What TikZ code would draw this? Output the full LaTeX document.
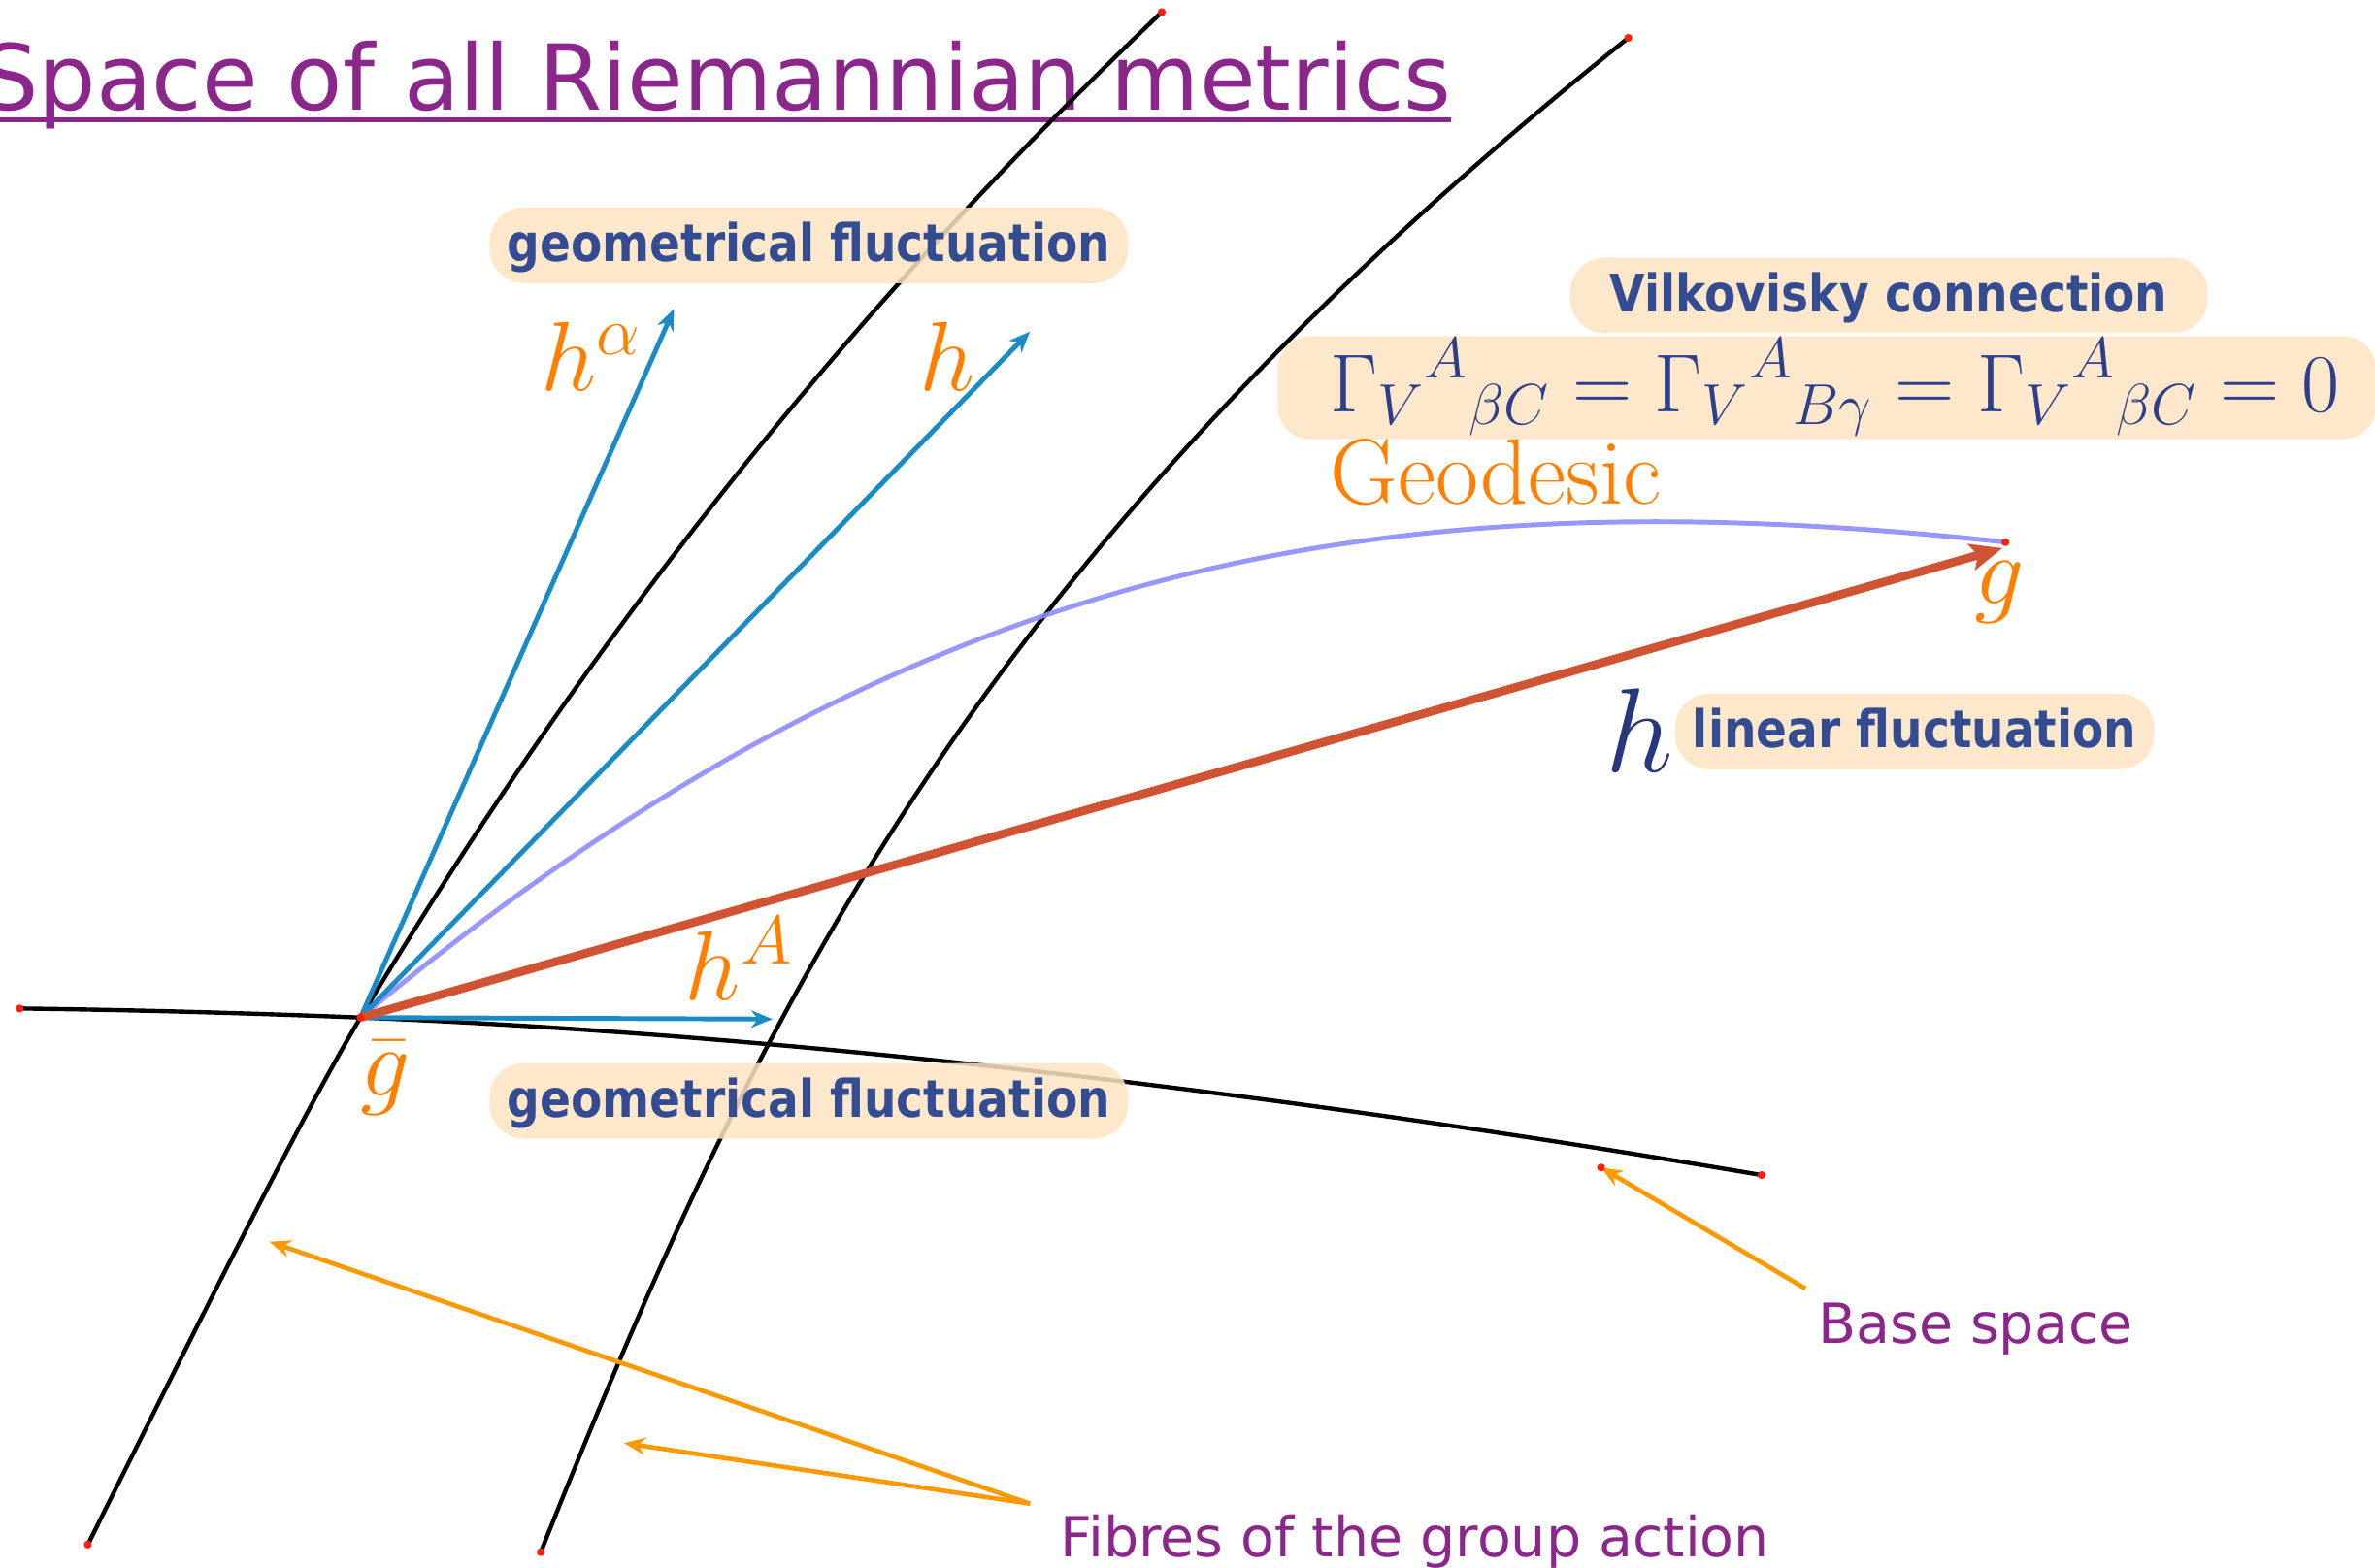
\RequirePackage{fix-cm}
\documentclass[tikz,border=0pt]{standalone}
\usepackage{fontspec}
\newfontfamily\dvsans{DejaVu Sans}
\newfontfamily\dvcond{DejaVu Sans}[FakeStretch=0.88]
\usetikzlibrary{arrows.meta}
\definecolor{titlepurple}{RGB}{139,38,139}
\definecolor{boxfill}{RGB}{253,228,194}
\definecolor{boxblue}{RGB}{52,76,145}
\definecolor{labelorange}{RGB}{255,128,0}
\definecolor{arroworange}{RGB}{255,153,0}
\definecolor{vecblue}{RGB}{25,140,200}
\definecolor{vecred}{RGB}{208,83,52}
\definecolor{geolav}{RGB}{140,140,255}
\definecolor{darkh}{RGB}{40,55,125}
\definecolor{eqblue}{RGB}{45,62,138}
\definecolor{dotred}{RGB}{255,30,10}
\tikzset{
  fibre/.style={black, line width=1.6pt, line cap=round},
  geoline/.style={geolav, line width=1.8pt, opacity=0.9},
  bluevec/.style={vecblue, line width=1.8pt, -{Stealth[length=8pt,width=6.5pt]}},
  redvec/.style={vecred, line width=3.2pt, -{Stealth[length=12pt,width=10pt,inset=2.5pt]}},
  pointer/.style={arroworange, line width=1.7pt, -{Stealth[length=8pt,width=6.5pt]}},
  pill/.style={fill=boxfill, fill opacity=0.85, text opacity=1, rounded corners=13pt,
    inner sep=0pt, text=boxblue, font=\dvcond\bfseries\fontsize{19.5}{22}\selectfont,
    minimum height=28.45pt, text height=15pt, text depth=2.5pt},
  orangemath/.style={text=labelorange, inner sep=0pt, anchor=base west, font=\fontsize{37}{42}\selectfont},
  purpletext/.style={text=titlepurple, inner sep=0pt, anchor=base west, font=\dvsans\fontsize{20.8}{24}\selectfont},
}
\begin{document}
\begin{tikzpicture}[x=0.02cm,y=-0.02cm]
\useasboundingbox (0,0) rectangle (1568,1035);
% title
\node[text=titlepurple, inner sep=0pt, anchor=base west, font=\dvsans\fontsize{34.2}{40}\selectfont] (title) at (-13,73) {Space of all Riemannian metrics};
\draw[titlepurple, line width=1.8pt] (0,79) -- (958,79);
% points
\coordinate (gbar) at (238,672);
\coordinate (gend) at (1324,358);
\coordinate (gtip) at (1322,362);
\coordinate (halpha) at (445,204);
\coordinate (hvec) at (680,219);
\coordinate (hA) at (510,673);
\coordinate (bsfrom) at (1192,851);
\coordinate (bsto) at (1057,771);
\coordinate (fbfrom) at (680,993);
\coordinate (fbto1) at (178,820);
\coordinate (fbto2) at (412,953);
\coordinate (f1a) at (58,1020);
\coordinate (f1b) at (767,8);
\coordinate (f2a) at (357,1025);
\coordinate (f2b) at (1075,25);
\coordinate (b0) at (13,666);
\coordinate (b1) at (1163,776);
% curves
\draw[fibre] (f1a) .. controls (116,904) and (196,742) .. (gbar)
  .. controls (370,452) and (536,228) .. (f1b);
\draw[fibre] (f2a) .. controls (497,675) and (637.5,375) .. (f2b);
\draw[fibre] (b0) .. controls (90,667) and (163,669) .. (gbar)
  .. controls (538,684) and (863,725) .. (b1);
\draw[geoline] (gbar) .. controls (598,372) and (904,313) .. (gend);
% vectors
\draw[bluevec] (gbar) -- (halpha);
\draw[bluevec] (gbar) -- (hvec);
\draw[bluevec] (gbar) -- (hA);
\draw[redvec] (gbar) -- (gtip);
% pointers
\draw[pointer] (bsfrom) -- (bsto);
\draw[pointer] (fbfrom) -- (fbto1);
\draw[pointer] (fbfrom) -- (fbto2);
% dots
\foreach \p in {(b0),(b1),(f1b),(f2b),(f1a),(f2a),(gbar),(gend),(bsto)}
  \fill[dotred] \p circle[radius=1.5pt];
% boxes
\node[pill, minimum width=240pt] (gf1) at (534,162) {geometrical fluctuation};
\node[pill, minimum width=240pt] (gf2) at (534,727) {geometrical fluctuation};
\node[pill, minimum width=239.5pt] (vilk) at (1247,195) {Vilkovisky connection};
\node[pill, minimum width=180pt] (lin) at (1264,483) {linear fluctuation};
\node[fill=boxfill, fill opacity=0.85, rounded corners=12pt, inner sep=0pt,
  minimum width=412.5pt, minimum height=38.7pt] (eqbox) at (1206,256) {};
\node[text=eqblue, inner sep=0pt, anchor=base west, font=\fontsize{31}{34}\selectfont] (eq) at (878,272)
  {${\Gamma_V}^{A}{}_{\beta C}={\Gamma_V}^{A}{}_{B\gamma}={\Gamma_V}^{A}{}_{\beta C}=0$};
% labels
\node[orangemath] (lhalpha) at (357,258) {$h^{\alpha}$};
\node[orangemath] (lh) at (607,258) {$h$};
\node[orangemath] (lg) at (1303,399) {$g$};
\node[orangemath] (lhA) at (452,660) {$h^{A}$};
\node[orangemath] (lgbar) at (238,724) {$\bar g$};
\node[text=labelorange, inner sep=0pt, anchor=base west, font=\fontsize{35}{40}\selectfont] (geo) at (878,333) {Geodesic};
\node[text=darkh, inner sep=0pt, anchor=base west, font=\fontsize{45}{50}\selectfont] (dh) at (1060,510) {$h$};
\node[purpletext] (bs) at (1200,887) {Base space};
\node[purpletext] (fb) at (700,1028) {Fibres of the group action};
\end{tikzpicture}
\end{document}
